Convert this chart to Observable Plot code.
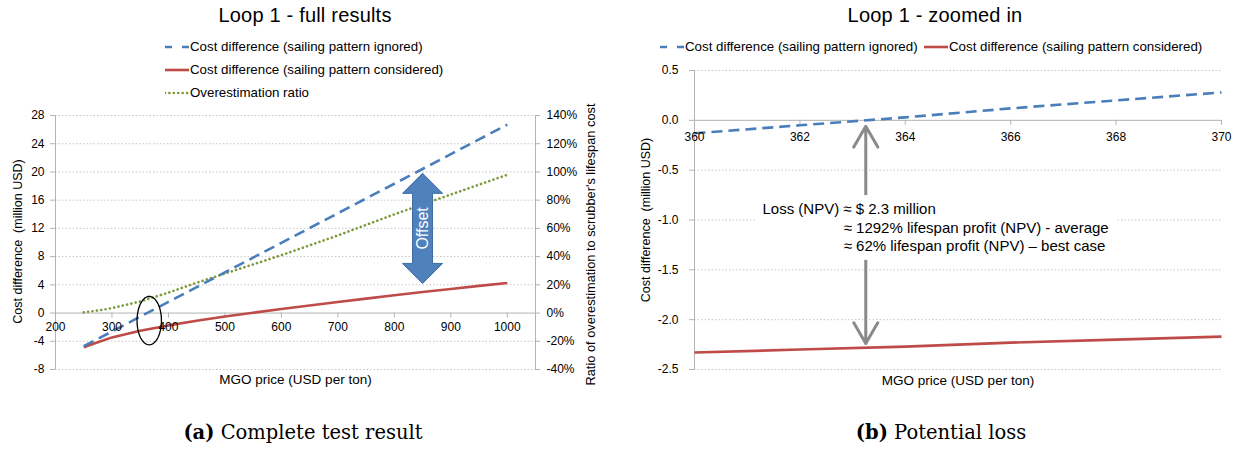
<!DOCTYPE html>
<html>
<head>
<meta charset="utf-8">
<script src="https://cdn.jsdelivr.net/npm/d3@7"></script>
<script src="https://cdn.jsdelivr.net/npm/@observablehq/plot@0.6"></script>
<style>
  body { margin: 0; background: #fff; width: 1239px; height: 450px; position: relative; overflow: hidden;
         font-family: "Liberation Sans", Arial, sans-serif; color: #000; }
  .abs { position: absolute; }
  .title { font-size: 20px; line-height: 22px; transform: translateX(-50%); white-space: nowrap; letter-spacing: 0.2px; }
  .legend-row { position: absolute; font-size: 13.3px; line-height: 16px; white-space: nowrap; display: flex;
                align-items: center; }
  .caption { font-family: "DejaVu Serif", "Liberation Serif", serif; font-size: 19.5px; line-height: 22px;
             transform: translateX(-50%); white-space: nowrap; }
</style>
</head>
<body>
<div id="left" class="abs" style="left:0;top:0"></div>
<div id="right" class="abs" style="left:620px;top:0"></div>
<div class="abs title" style="left:305px;top:4px">Loop 1 - full results</div>
<div class="abs title" style="left:935px;top:4px">Loop 1 - zoomed in</div>
<div id="legends" class="abs" style="left:0;top:0"></div>
<div class="abs caption" style="left:303px;top:422px"><b>(a)</b> Complete test result</div>
<div class="abs caption" style="left:941px;top:422px"><b>(b)</b> Potential loss</div>
<script>
// ---- Full range run: MGO price (USD per ton) ----
const fullPrice      = [250, 275, 300, 350, 400, 450, 500, 550, 600, 650, 700, 750, 800, 850, 900, 950, 1000];
// cost difference, million USD
const fullIgnored    = [-4.70, -3.65, -2.61, -0.51, 1.58, 3.67, 5.77, 7.86, 9.95, 12.05, 14.14, 16.24, 18.33, 20.42, 22.52, 24.61, 26.70];
const fullConsidered = [-4.85, -4.15, -3.45, -2.50, -1.75, -1.10, -0.50, 0.05, 0.58, 1.08, 1.57, 2.05, 2.52, 2.98, 3.42, 3.85, 4.25];
// overestimation ratio, % of scrubber lifespan cost
const overRatio      = [0.5, 1.8, 3.5, 8.2, 14.5, 21.5, 28, 34.5, 41, 48, 55, 62.5, 70, 77, 84, 91, 98];

// ---- Zoomed window around break-even ----
const zoomPrice      = [360, 362, 364, 366, 368, 370];
const zoomIgnored    = [-0.13, -0.05, 0.03, 0.12, 0.20, 0.28];
const zoomConsidered = [-2.33, -2.30, -2.27, -2.23, -2.20, -2.17];

// ---- Tick values ----
const fullXTicks  = [200, 300, 400, 500, 600, 700, 800, 900, 1000];
const fullYTicks  = [-8, -4, 0, 4, 8, 12, 16, 20, 24, 28];
const ratioTicks  = [-40, -20, 0, 20, 40, 60, 80, 100, 120, 140];
const zoomXTicks  = [360, 362, 364, 366, 368, 370];
const zoomYTicks  = [-2.5, -2.0, -1.5, -1.0, -0.5, 0.0, 0.5];

// ---- Series names and styles ----
const seriesNames = ["Cost difference (sailing pattern ignored)",
                     "Cost difference (sailing pattern considered)",
                     "Overestimation ratio"];
const seriesStyle = [
  {stroke: "#4a7ebb", dash: "11,6", width: 2.6, cap: "butt"},
  {stroke: "#be4b48", dash: null,   width: 2.6, cap: "butt"},
  {stroke: "#7d9a3c", dash: "0.1,4.3", width: 2.6, cap: "round"}
];

// ---- Annotations ----
const offsetArrow = {x: 850, top: 19.8, bottom: 4.2, label: "Offset"};
const breakEvenMark = {x: 366, y: -1.07, rx: 21.6, ry: 3.43};
const lossValue = 2.3;           // million USD, at break-even price
const breakEvenPrice = 363.25;
const lossLines = ["Loss (NPV) \u2248 $ 2.3 million",
                   "\u2248 1292% lifespan profit (NPV) - average",
                   "\u2248 62% lifespan profit (NPV) \u2013 best case"];

const axisColor = "#b3b3b3";
const gridColor = "#c6c6c6";
const font = "Liberation Sans, Arial, sans-serif";

// ---------- Left chart ----------
const L = {width: 620, height: 400, ml: 55, mr: 85, mt: 115, mb: 31, x: [200, 1050], y: [-8, 28]};
const lx = px => px * (L.x[1] - L.x[0]) / (L.width - L.ml - L.mr);
const ly = px => px * (L.y[1] - L.y[0]) / (L.height - L.mt - L.mb);
const ratioToCost = r => r * 28 / 140;

const fullRows = fullPrice.map((p, i) => ({p, ign: fullIgnored[i], con: fullConsidered[i], ratio: ratioToCost(overRatio[i])}));

const a = offsetArrow, hw = lx(20), sw = lx(10), hl = ly(20);
const arrowPoly = [
  [a.x, a.top], [a.x + hw, a.top - hl], [a.x + sw, a.top - hl], [a.x + sw, a.bottom + hl],
  [a.x + hw, a.bottom + hl], [a.x, a.bottom], [a.x - hw, a.bottom + hl], [a.x - sw, a.bottom + hl],
  [a.x - sw, a.top - hl], [a.x - hw, a.top - hl], [a.x, a.top]
];
const e = breakEvenMark;
const ellipse = d3.range(0, 73).map(i => {
  const t = i / 72 * 2 * Math.PI;
  return [e.x + e.rx * Math.cos(t), e.y + e.ry * Math.sin(t)];
});

function seriesLine(rows, key, s) {
  return Plot.line(rows, {x: "p", y: key, stroke: s.stroke, strokeWidth: s.width,
    strokeDasharray: s.dash, strokeLinecap: s.cap});
}

const leftPlot = Plot.plot({
  width: L.width, height: L.height,
  marginLeft: L.ml, marginRight: L.mr, marginTop: L.mt, marginBottom: L.mb,
  x: {domain: L.x, axis: null},
  y: {domain: L.y, axis: null},
  style: {fontFamily: font, fontSize: "12px", background: "transparent", overflow: "visible", color: "#000"},
  marks: [
    Plot.ruleY(fullYTicks.filter(d => d !== 0), {stroke: gridColor, strokeDasharray: "1.5,2"}),
    Plot.ruleX([L.x[0], L.x[1]], {stroke: axisColor}),
    Plot.ruleY([0], {stroke: axisColor}),
    Plot.ruleY(fullYTicks, {x1: L.x[0] - lx(5), x2: L.x[0], stroke: axisColor}),
    Plot.ruleY(ratioTicks, {y: d => ratioToCost(d), x1: L.x[1], x2: L.x[1] + lx(5), stroke: axisColor}),
    Plot.ruleX(fullXTicks, {y1: 0, y2: -ly(5), stroke: axisColor}),
    seriesLine(fullRows, "ratio", seriesStyle[2]),
    seriesLine(fullRows, "con", seriesStyle[1]),
    seriesLine(fullRows, "ign", seriesStyle[0]),
    Plot.line(arrowPoly, {x: d => d[0], y: d => d[1], fill: "#4f81bd", stroke: "#3c6ba3", strokeWidth: 1}),
    Plot.text([a], {x: "x", y: d => (d.top + d.bottom) / 2, text: "label", rotate: -90, fill: "white", fontSize: 16}),
    Plot.line(ellipse, {x: d => d[0], y: d => d[1], stroke: "#000", strokeWidth: 1.3}),
    Plot.text(fullYTicks, {x: L.x[0], y: d => d, text: d => String(d), textAnchor: "end", dx: -11}),
    Plot.text(ratioTicks, {x: L.x[1], y: d => ratioToCost(d), text: d => d + "%", textAnchor: "start", dx: 11}),
    Plot.text(fullXTicks, {x: d => d, y: 0, text: d => String(d), dy: 14.5}),
    Plot.text(["Cost difference  (million USD)"], {frameAnchor: "left", textAnchor: "middle", dx: -38, dy: -1,
      rotate: -90, text: d => d, fontSize: 12.5}),
    Plot.text(["Ratio of overestimation to scrubber's lifespan cost"], {frameAnchor: "right", textAnchor: "middle",
      dx: 55, dy: 2, rotate: -90, text: d => d, fontSize: 12.8}),
    Plot.text(["MGO price (USD per ton)"], {frameAnchor: "bottom", dy: 14, text: d => d, fontSize: 13.5})
  ]
});
document.getElementById("left").appendChild(leftPlot);

// ---------- Right chart ----------
const R = {width: 619, height: 400, ml: 74, mr: 18, mt: 70, mb: 31, x: [360, 370], y: [-2.5, 0.5]};
const rx = px => px * (R.x[1] - R.x[0]) / (R.width - R.ml - R.mr);
const ry = px => px * (R.y[1] - R.y[0]) / (R.height - R.mt - R.mb);

const zoomRows = zoomPrice.map((p, i) => ({p, ign: zoomIgnored[i], con: zoomConsidered[i]}));
const arrowMid = -1.1;
const noteBox = {x1: 361.16, x2: 368.03, y1: -0.755, y2: -1.405};
const noteText = [
  {x: 361.29, y: -0.894, t: lossLines[0]},
  {x: 362.83, y: -1.08,  t: lossLines[1]},
  {x: 362.83, y: -1.258, t: lossLines[2]}
];

const rightPlot = Plot.plot({
  width: R.width, height: R.height,
  marginLeft: R.ml, marginRight: R.mr, marginTop: R.mt, marginBottom: R.mb,
  x: {domain: R.x, axis: null},
  y: {domain: R.y, axis: null},
  style: {fontFamily: font, fontSize: "12px", background: "transparent", overflow: "visible", color: "#000"},
  marks: [
    Plot.ruleY(zoomYTicks.filter(d => d !== 0), {stroke: gridColor, strokeDasharray: "1.5,2"}),
    Plot.ruleX([R.x[0]], {stroke: axisColor}),
    Plot.ruleY([0], {stroke: axisColor}),
    Plot.ruleY(zoomYTicks, {x1: R.x[0] - rx(5), x2: R.x[0], stroke: axisColor}),
    Plot.ruleX(zoomXTicks, {y1: 0, y2: -ry(5), stroke: axisColor}),
    seriesLine(zoomRows, "con", seriesStyle[1]),
    seriesLine(zoomRows, "ign", seriesStyle[0]),
    Plot.arrow([{y1: arrowMid, y2: 0}, {y1: arrowMid, y2: -lossValue}], {
      x1: breakEvenPrice, x2: breakEvenPrice, y1: "y1", y2: "y2",
      stroke: "#8a8a8a", strokeWidth: 3, headLength: 12, insetEnd: 6
    }),
    Plot.rect([noteBox], {x1: "x1", x2: "x2", y1: "y1", y2: "y2", fill: "white"}),
    Plot.text(noteText, {x: "x", y: "y", text: "t", textAnchor: "start", fontSize: 15,
      style: "letter-spacing:0.25px"}),
    Plot.text(zoomYTicks, {x: R.x[0], y: d => d, text: d => d.toFixed(1), textAnchor: "end", dx: -16}),
    Plot.text(zoomXTicks, {x: d => d, y: 0, text: d => String(d), dy: 16.5}),
    Plot.text(["Cost difference  (million USD)"], {frameAnchor: "left", textAnchor: "middle", dx: -49,
      rotate: -90, text: d => d, fontSize: 12.5}),
    Plot.text(["MGO price (USD per ton)"], {frameAnchor: "bottom", dy: 15, text: d => d, fontSize: 13.5})
  ]
});
document.getElementById("right").appendChild(rightPlot);

// ---------- Legends ----------
const legendPlacement = [
  {series: 0, left: 165, top: 47},
  {series: 1, left: 165, top: 70},
  {series: 2, left: 165, top: 93},
  {series: 0, left: 660, top: 47},
  {series: 1, left: 924, top: 47}
];
const legends = document.getElementById("legends");
legendPlacement.forEach(({series, left, top}) => {
  const s = seriesStyle[series];
  const dash = series === 0 ? "7,10" : s.dash;
  const row = document.createElement("div");
  row.className = "legend-row";
  row.style.left = left + "px";
  row.style.top = (top - 8) + "px";
  row.innerHTML = `<svg width="24" height="10" style="margin-right:1px"><line x1="0" y1="5" x2="24" y2="5" stroke="${s.stroke}" stroke-width="${s.width}" stroke-linecap="${s.cap}" ${dash ? `stroke-dasharray="${dash}"` : ""}/></svg><span>${seriesNames[series]}</span>`;
  legends.appendChild(row);
});
</script>
</body>
</html>
